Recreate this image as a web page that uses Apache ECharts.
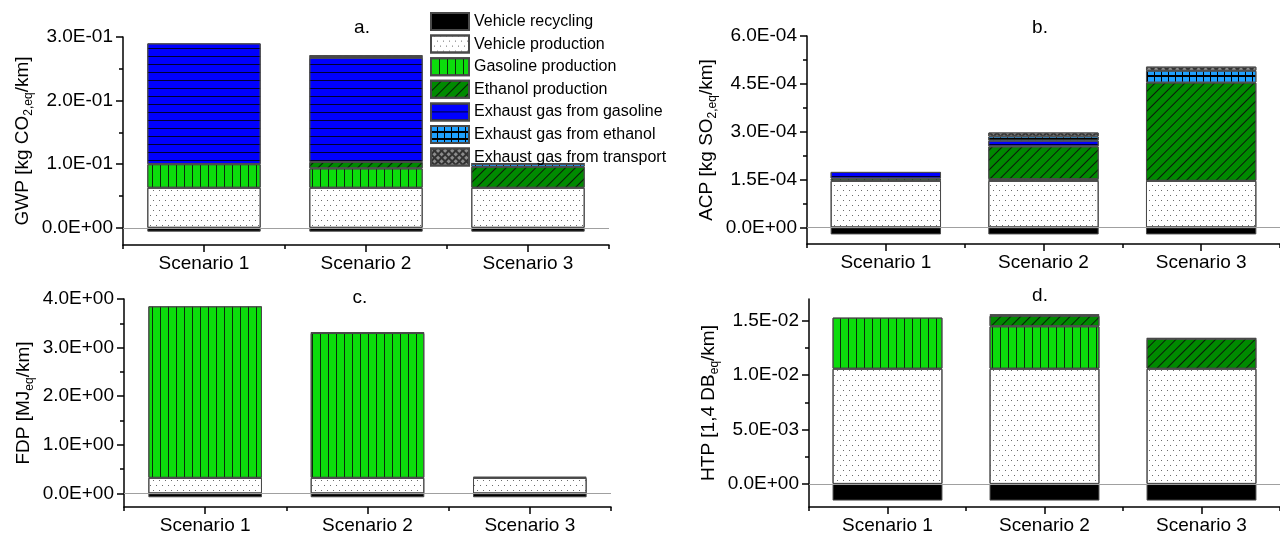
<!DOCTYPE html>
<html>
<head>
<meta charset="utf-8">
<script src="https://cdn.jsdelivr.net/npm/echarts@6/dist/echarts.min.js"></script>
<style>
html,body{margin:0;padding:0;background:#fff;}
#chart{width:1280px;height:535px;}
</style>
</head>
<body>
<div id="chart"></div>
<script>
// ---------- DATA ----------
const categories = ['Scenario 1', 'Scenario 2', 'Scenario 3'];
const seriesNames = ['Vehicle recycling', 'Vehicle production', 'Gasoline production', 'Ethanol production',
  'Exhaust gas from gasoline', 'Exhaust gas from ethanol', 'Exhaust gas from transport'];

// rows follow seriesNames order, columns follow categories
const gwpValues = [
  [-0.006, -0.006, -0.006],
  [0.063, 0.063, 0.063],
  [0.037, 0.0305, 0],
  [0, 0.010, 0.033],
  [0.190, 0.164, 0],
  [0, 0.001, 0.0045],
  [0, 0.003, 0.001]
];
const acpValues = [
  [-2.2e-5, -2.2e-5, -2.2e-5],
  [1.46e-4, 1.46e-4, 1.46e-4],
  [7e-6, 5e-6, 0],
  [0, 1.03e-4, 3.08e-4],
  [2.1e-5, 1.8e-5, 0],
  [0, 1.3e-5, 3.7e-5],
  [0, 1.25e-5, 1.3e-5]
];
const fdpValues = [
  [-0.08, -0.08, -0.08],
  [0.32, 0.32, 0.32],
  [3.53, 2.98, 0],
  [0, 0.01, 0.02],
  [0, 0, 0],
  [0, 0, 0],
  [0, 0, 0]
];
const htpValues = [
  [-0.00153, -0.00153, -0.00153],
  [0.01059, 0.01059, 0.01059],
  [0.0047, 0.0039, 0],
  [0, 0.00097, 0.00276],
  [0, 0, 0],
  [0, 0, 0],
  [0, 0.00013, 0.00005]
];

const gwpTicks = [0, 0.1, 0.2, 0.3];
const gwpMinorTicks = [0.05, 0.15, 0.25];
const acpTicks = [0, 1.5e-4, 3.0e-4, 4.5e-4, 6.0e-4];
const acpMinorTicks = [0.75e-4, 2.25e-4, 3.75e-4, 5.25e-4];
const fdpTicks = [0, 1, 2, 3, 4];
const fdpMinorTicks = [0.5, 1.5, 2.5, 3.5];
const htpTicks = [0, 0.005, 0.010, 0.015];
const htpMinorTicks = [0.0025, 0.0075, 0.0125];

const gwpRange = [-0.027, 0.3];
const acpRange = [-5.2e-5, 6.0e-4];
const fdpRange = [-0.28, 4.0];
const htpRange = [-0.00212, 0.017];

const panelTitles = ['a.', 'b.', 'c.', 'd.'];

// ---------- STYLE ----------
const FONT = 'Liberation Sans, Arial, sans-serif';
const styles = [
  { color: '#000000' },
  { color: '#ffffff', decal: { symbol: 'rect', symbolSize: 1, color: '#6a6a6a',
      dashArrayX: [[1, 5], [0, 3, 1, 2]], dashArrayY: [1, 4] } },
  { color: '#0cdc0c', decal: { symbol: 'rect', symbolSize: 1, color: '#0a2a0a',
      dashArrayX: [1, 6.3], dashArrayY: [1, 0] } },
  { color: '#008a00', decal: { symbol: 'rect', symbolSize: 1, color: '#0a1a0a',
      dashArrayX: [1, 0], dashArrayY: [1, 5.5], rotation: -Math.PI / 4 } },
  { color: '#0000ff', decal: { symbol: 'rect', symbolSize: 1, color: '#000033',
      dashArrayX: [1, 0], dashArrayY: [1, 6.4] } },
  { color: '#000000', decal: { symbol: 'rect', symbolSize: 1, color: '#1ea0ff',
      dashArrayX: [6, 1], dashArrayY: [5, 1.2] } },
  { color: '#333333', decal: { symbol: 'rect', symbolSize: 1, color: '#8c8c8c',
      dashArrayX: [3, 1.3], dashArrayY: [3, 1.3], rotation: Math.PI / 4 } }
];

function fmtE(v) {
  if (Math.abs(v) < 1e-12) return '0.0E+00';
  let e = Math.floor(Math.log10(Math.abs(v)) + 1e-9);
  let m = v / Math.pow(10, e);
  if (Math.abs(m) >= 9.95) { m /= 10; e += 1; }
  const s = e < 0 ? '-' : '+';
  const ae = Math.abs(e);
  return m.toFixed(1) + 'E' + s + (ae < 10 ? '0' + ae : ae);
}

const panels = [
  { values: gwpValues, ticks: gwpTicks, minor: gwpMinorTicks, range: gwpRange,
    grid: { left: 123, top: 37, width: 486, height: 208 },
    name: '{m|GWP [kg CO}{s|2,eq}{m|/km]}', title: [362, 28] },
  { values: acpValues, ticks: acpTicks, minor: acpMinorTicks, range: acpRange,
    grid: { left: 807, top: 36, width: 474, height: 208 },
    name: '{m|ACP [kg SO}{s|2,eq}{m|/km]}', title: [1040, 28] },
  { values: fdpValues, ticks: fdpTicks, minor: fdpMinorTicks, range: fdpRange,
    grid: { left: 124, top: 299, width: 487, height: 208 },
    name: '{m|FDP [MJ}{s|eq}{m|/km]}', title: [360, 298] },
  { values: htpValues, ticks: htpTicks, minor: htpMinorTicks, range: htpRange,
    grid: { left: 809, top: 299, width: 474, height: 208 },
    name: '{m|HTP [1,4 DB}{s|eq}{m|/km]}', title: [1040, 296] }
];

const grids = [], xAxes = [], yAxes = [], series = [], graphics = [];
const axisLineStyle = { color: '#000', width: 1.5 };

panels.forEach((p, i) => {
  grids.push(p.grid);
  // main x axis (labels + centre ticks)
  xAxes.push({
    type: 'category', gridIndex: i, data: categories, position: 'bottom',
    axisLine: { show: true, onZero: false, lineStyle: axisLineStyle },
    axisTick: { show: true, alignWithLabel: true, length: 7, lineStyle: { color: '#000', width: 1.5 } },
    axisLabel: { color: '#000', fontSize: 19, fontFamily: FONT, margin: 9 },
    splitLine: { show: false }
  });
  // secondary x axis (boundary ticks)
  xAxes.push({
    type: 'category', gridIndex: i, data: categories, position: 'bottom',
    axisLine: { show: false, onZero: false },
    axisTick: { show: true, alignWithLabel: false, length: 4, lineStyle: { color: '#000', width: 1.5 } },
    axisLabel: { show: false },
    splitLine: { show: false }
  });
  // main y axis
  yAxes.push({
    type: 'value', gridIndex: i, min: p.range[0], max: p.range[1], position: 'left',
    name: p.name, nameLocation: 'middle', nameRotate: 90, nameGap: 88,
    nameTextStyle: {
      rich: {
        m: { fontSize: 19, fontFamily: FONT, color: '#000', lineHeight: 24, verticalAlign: 'middle' },
        s: { fontSize: 12, fontFamily: FONT, color: '#000', lineHeight: 24, verticalAlign: 'bottom' }
      }
    },
    axisLine: { show: true, lineStyle: axisLineStyle },
    axisTick: { show: true, inside: false, length: 7, customValues: p.ticks, lineStyle: { color: '#000', width: 1.5 } },
    axisLabel: { color: '#000', fontSize: 19, fontFamily: FONT, margin: 10, customValues: p.ticks,
      formatter: fmtE },
    splitLine: { show: false }
  });
  // minor ticks y axis
  yAxes.push({
    type: 'value', gridIndex: i, min: p.range[0], max: p.range[1], position: 'left',
    axisLine: { show: false },
    axisTick: { show: true, inside: false, length: 4, customValues: p.minor, lineStyle: { color: '#000', width: 1.5 } },
    axisLabel: { show: false },
    splitLine: { show: false }
  });

  seriesNames.forEach((nm, k) => {
    const s = {
      type: 'bar', name: nm, stack: 'p' + i,
      xAxisIndex: 2 * i, yAxisIndex: 2 * i,
      barWidth: '70%',
      data: p.values[k].map(v => (v === 0 ? null : v)),
      itemStyle: Object.assign({ borderColor: '#4a4a4a', borderWidth: 1 }, styles[k]),
      emphasis: { disabled: true }
    };
    if (k === 0) {
      s.markLine = {
        silent: true, symbol: 'none', label: { show: false },
        lineStyle: { color: '#a0a0a0', width: 1, type: 'solid' },
        data: [{ yAxis: 0 }]
      };
    }
    series.push(s);
  });

  graphics.push({
    type: 'text', x: p.title[0], y: p.title[1],
    style: { text: panelTitles[i], fontSize: 19, fontFamily: FONT, fill: '#000',
      align: 'center', verticalAlign: 'middle' }
  });
});

const chart = echarts.init(document.getElementById('chart'), null, { renderer: 'canvas' });
chart.setOption({
  animation: false,
  backgroundColor: '#ffffff',
  grid: grids,
  xAxis: xAxes,
  yAxis: yAxes,
  series: series,
  graphic: graphics,
  legend: {
    data: seriesNames, orient: 'vertical', left: 430, top: 12,
    itemWidth: 38, itemHeight: 17, itemGap: 3.6, padding: 0,
    icon: 'rect', selectedMode: false,
    textStyle: { fontSize: 16, fontFamily: FONT, color: '#000' }
  }
});
</script>
</body>
</html>
